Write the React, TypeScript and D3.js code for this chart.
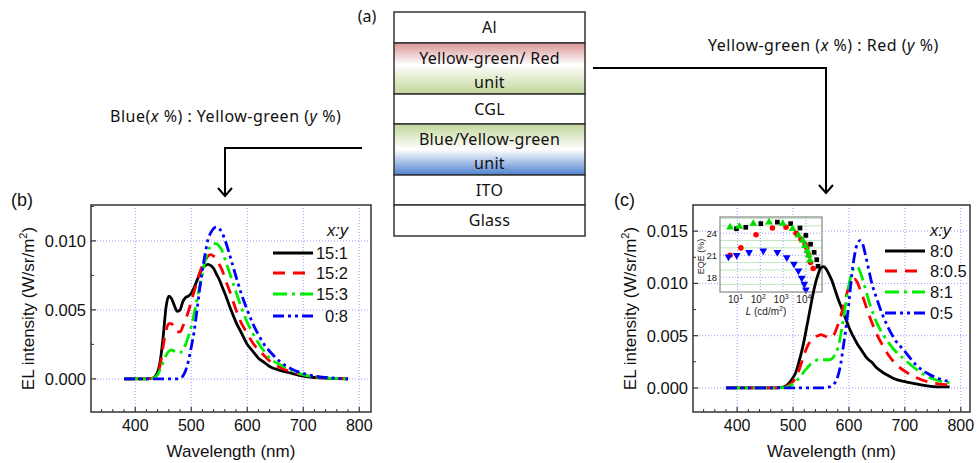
import React from 'react';
import * as d3 from 'd3';

const W = 977;
const H = 463;
const plotFont = "'Liberation Sans', Arial, sans-serif";
const labelFont = "'Noto Sans', 'Open Sans', sans-serif";

// panel (b) spectra: Blue(x%) : Yellow-green(y%)
const waveB = [380, 400, 420, 430, 440, 445, 450, 455, 460, 465, 470, 475, 480, 485, 490, 495, 500, 505, 510, 515, 520, 525, 530, 535, 540, 545, 550, 555, 560, 570, 580, 590, 600, 610, 620, 630, 640, 660, 680, 700, 720, 740, 760, 780];
const b15_1 = [0, 0, 0, 0.00003, 0.0005, 0.0014, 0.0031, 0.0052, 0.0060, 0.0058, 0.0053, 0.0049, 0.0050, 0.0056, 0.0059, 0.0060, 0.0062, 0.0066, 0.0071, 0.0076, 0.0080, 0.0082, 0.0083, 0.0082, 0.0080, 0.0076, 0.0072, 0.0067, 0.0062, 0.0051, 0.0041, 0.0033, 0.0025, 0.0020, 0.0015, 0.0012, 0.0009, 0.0006, 0.0004, 0.0002, 0.0001, 0.00005, 0.00002, 0];
const b15_2 = [0, 0, 0, 0.00003, 0.0004, 0.0011, 0.0024, 0.0035, 0.0040, 0.0040, 0.0036, 0.0034, 0.0034, 0.0038, 0.0043, 0.0049, 0.0056, 0.0063, 0.0070, 0.0077, 0.0082, 0.0086, 0.0089, 0.0090, 0.0089, 0.0087, 0.0083, 0.0079, 0.0073, 0.0062, 0.0050, 0.0040, 0.0033, 0.0026, 0.0021, 0.0017, 0.0013, 0.0008, 0.0005, 0.0003, 0.00015, 0.00008, 0.00003, 0];
const b15_3 = [0, 0, 0, 0.00002, 0.0003, 0.0007, 0.0012, 0.0017, 0.0020, 0.0021, 0.0020, 0.0019, 0.0019, 0.0021, 0.0025, 0.0031, 0.0038, 0.0047, 0.0057, 0.0067, 0.0076, 0.0086, 0.0093, 0.0096, 0.0098, 0.0098, 0.0096, 0.0093, 0.0087, 0.0075, 0.0063, 0.0051, 0.0041, 0.0033, 0.0026, 0.0020, 0.0015, 0.0010, 0.0006, 0.0003, 0.00015, 0.00008, 0.00003, 0];
const b0_8 = [0, 0, 0, 0, 0, 0, 0, 0, 0, 0, 0, 0, 0.00005, 0.0002, 0.0006, 0.0013, 0.0023, 0.0034, 0.0049, 0.0065, 0.0079, 0.0091, 0.0101, 0.0106, 0.0109, 0.0110, 0.0109, 0.0106, 0.0101, 0.0088, 0.0074, 0.0061, 0.0050, 0.0040, 0.0032, 0.0025, 0.0020, 0.0012, 0.0007, 0.0004, 0.0002, 0.0001, 0.00004, 0];
const legendB = ['15:1', '15:2', '15:3', '0:8'];

// panel (c) spectra: Yellow-green(x%) : Red(y%)
const waveC = [380, 400, 420, 440, 460, 480, 490, 500, 505, 510, 515, 520, 525, 530, 535, 540, 545, 550, 555, 560, 565, 570, 575, 580, 585, 590, 595, 600, 605, 610, 615, 620, 625, 630, 635, 640, 650, 660, 670, 680, 700, 720, 740, 760, 780];
const c8_0 = [0, 0, 0, 0, 0, 0.00005, 0.0003, 0.0010, 0.0015, 0.0024, 0.0034, 0.0046, 0.0060, 0.0074, 0.0088, 0.0100, 0.0109, 0.0115, 0.0116, 0.0113, 0.0108, 0.0102, 0.0094, 0.0086, 0.0079, 0.0072, 0.0065, 0.0058, 0.0052, 0.0047, 0.0042, 0.0038, 0.0034, 0.0030, 0.0027, 0.0025, 0.0019, 0.0015, 0.0012, 0.0009, 0.0006, 0.0004, 0.0002, 0.0001, 0.0001];
const c8_05 = [0, 0, 0, 0, 0, 0.00005, 0.0002, 0.0006, 0.0010, 0.0016, 0.0024, 0.0032, 0.0039, 0.0044, 0.0047, 0.0049, 0.0050, 0.0051, 0.0050, 0.0049, 0.0048, 0.0049, 0.0053, 0.0060, 0.0068, 0.0078, 0.0088, 0.0097, 0.0102, 0.0104, 0.0101, 0.0094, 0.0087, 0.0079, 0.0071, 0.0064, 0.0051, 0.0041, 0.0032, 0.0025, 0.0016, 0.0010, 0.0006, 0.0004, 0.0003];
const c8_1 = [0, 0, 0, 0, 0, 0.00003, 0.0001, 0.0004, 0.0006, 0.0009, 0.0012, 0.0016, 0.0019, 0.0022, 0.0024, 0.0026, 0.0027, 0.0027, 0.0027, 0.0027, 0.0027, 0.0028, 0.0032, 0.0038, 0.0050, 0.0066, 0.0084, 0.0099, 0.0110, 0.0115, 0.0116, 0.0111, 0.0103, 0.0094, 0.0084, 0.0076, 0.0062, 0.0052, 0.0044, 0.0037, 0.0027, 0.0018, 0.0011, 0.0007, 0.0005];
const c0_5 = [0, 0, 0, 0, 0, 0, 0, 0, 0, 0, 0, 0, 0, 0, 0, 0, 0, 0, 0, 0.00005, 0.0001, 0.0002, 0.0005, 0.0011, 0.0022, 0.0040, 0.0059, 0.0082, 0.0108, 0.0127, 0.0138, 0.0141, 0.0137, 0.0126, 0.0114, 0.0102, 0.0085, 0.0070, 0.0058, 0.0048, 0.0035, 0.0022, 0.0014, 0.0009, 0.0006];
const legendC = ['8:0', '8:0.5', '8:1', '0:5'];

// inset EQE vs luminance
const lum8_0 = [9, 23, 105, 560, 2150, 5500, 10000, 16000, 23000, 30000, 34000];
const eqe8_0 = [24.6, 24.8, 25.3, 25.5, 25.3, 24.7, 23.7, 22.5, 21.4, 20.4, 19.5];
const lum8_05 = [4.7, 14, 65, 340, 1350, 3700, 6100, 9200, 11000, 13200, 16000, 21000];
const eqe8_05 = [21.0, 22.0, 23.8, 24.7, 24.8, 24.0, 23.2, 22.5, 22.0, 21.0, 20.0, 19.2];
const lum8_1 = [4.7, 12, 49, 240, 960, 2600, 4700, 7300, 9200, 11500, 13200, 15000];
const eqe8_1 = [24.8, 24.9, 25.3, 25.5, 25.3, 24.6, 23.7, 23.0, 22.3, 21.6, 21.0, 20.3];
const lum0_5 = [4.0, 9.2, 32, 135, 560, 1450, 3000, 4700, 6600, 8500, 10000];
const eqe0_5 = [20.8, 21.0, 21.4, 21.6, 21.4, 20.7, 19.8, 18.9, 17.9, 17.1, 16.3];

const layers = [
  { lines: ['Al'], fill: 'white' },
  { lines: ['Yellow-green/ Red', 'unit'], fill: 'url(#gradRG)' },
  { lines: ['CGL'], fill: 'white' },
  { lines: ['Blue/Yellow-green', 'unit'], fill: 'url(#gradGB)' },
  { lines: ['ITO'], fill: 'white' },
  { lines: ['Glass'], fill: 'white' },
];
const layerEdges = [12, 43, 94, 124, 175, 205, 236];

const styles = [
  { color: '#000000', dash: 'none' },
  { color: '#ff0000', dash: '12,8' },
  { color: '#00ee00', dash: '14,5,3,5' },
  { color: '#0000ff', dash: '11,4,3,4,3,4' },
];

const gridColor = '#9a9aff';

function Spectrum({ box, xDomain, yDomain, yTicks, wave, series, labels, legendX, legendAnchor, legendYs, headerX, children }) {
  const x = d3.scaleLinear().domain(xDomain).range([box.left, box.right]);
  const y = d3.scaleLinear().domain(yDomain).range([box.bottom, box.top]);
  const xMajor = [400, 500, 600, 700, 800];
  const xMinor = d3.range(340, 820, 20).filter(v => v % 100 !== 0 && v <= xDomain[1]);
  const yMinor = d3.range(-0.0025, yDomain[1], 0.0025).filter(v => v >= yDomain[0] && Math.abs((v / 0.005) - Math.round(v / 0.005)) > 0.01);
  const line = d3.line().x((d) => x(d[0])).y((d) => y(d[1])).curve(d3.curveMonotoneX);
  const fmt = d3.format('.3f');
  const midY = (box.top + box.bottom) / 2;
  return (
    <g>
      {xMajor.map(v => (
        <line key={'gx' + v} x1={x(v)} x2={x(v)} y1={box.top} y2={box.bottom} stroke={gridColor} strokeWidth={1} strokeDasharray="1,2" />
      ))}
      {yTicks.map(v => (
        <line key={'gy' + v} x1={box.left} x2={box.right} y1={y(v)} y2={y(v)} stroke={gridColor} strokeWidth={1} strokeDasharray="1,2" />
      ))}
      {children}
      {series.map((s, i) => (
        <path key={'s' + i} d={line(wave.map((w, k) => [w, s[k]]))} fill="none" stroke={styles[i].color} strokeWidth={2.8} strokeDasharray={styles[i].dash} strokeLinejoin="round" />
      ))}
      <rect x={box.left} y={box.top} width={box.right - box.left} height={box.bottom - box.top} fill="none" stroke="#333" strokeWidth={1.5} />
      {xMajor.map(v => (
        <line key={'tx' + v} x1={x(v)} x2={x(v)} y1={box.bottom} y2={box.bottom - 5} stroke="#333" strokeWidth={1.2} />
      ))}
      {xMinor.map(v => (
        <line key={'mx' + v} x1={x(v)} x2={x(v)} y1={box.bottom} y2={box.bottom - 3} stroke="#333" strokeWidth={1} />
      ))}
      {yTicks.map(v => (
        <line key={'ty' + v} x1={box.left} x2={box.left + 5} y1={y(v)} y2={y(v)} stroke="#333" strokeWidth={1.2} />
      ))}
      {yMinor.map(v => (
        <line key={'my' + v} x1={box.left} x2={box.left + 3} y1={y(v)} y2={y(v)} stroke="#333" strokeWidth={1} />
      ))}
      {xMajor.map(v => (
        <text key={'lx' + v} x={x(v)} y={box.bottom + 19} textAnchor="middle" fontSize={16} fontFamily={plotFont} fill="#111">{v}</text>
      ))}
      {yTicks.map(v => (
        <text key={'ly' + v} x={box.left - 5} y={y(v) + 6} textAnchor="end" fontSize={16.5} fontFamily={plotFont} fill="#111">{fmt(v)}</text>
      ))}
      <text x={(box.left + box.right) / 2} y={457} textAnchor="middle" fontSize={17} fontFamily={plotFont} fill="#111">Wavelength (nm)</text>
      <text transform={`translate(${box.left - 57},${midY}) rotate(-90)`} textAnchor="middle" fontSize={17} fontFamily={plotFont} fill="#111">
        EL intensity (W/sr/m<tspan fontSize={11} dy={-7}>2</tspan><tspan dy={7}>)</tspan>
      </text>
      <text x={headerX} y={236} textAnchor={legendAnchor === 'end' ? 'end' : 'start'} fontSize={16.5} fontStyle="italic" fontFamily={plotFont} fill="#111">x:y</text>
      {labels.map((lab, i) => (
        <g key={'lg' + i}>
          <line x1={legendX[0]} x2={legendX[1]} y1={legendYs[i]} y2={legendYs[i]} stroke={styles[i].color} strokeWidth={2.8} strokeDasharray={styles[i].dash} />
          <text x={legendX[2]} y={legendYs[i] + 6} textAnchor={legendAnchor} fontSize={16.5} fontFamily={plotFont} fill="#111">{lab}</text>
        </g>
      ))}
    </g>
  );
}

function Inset() {
  const box = { left: 720, right: 822, top: 217, bottom: 292 };
  const x = d3.scaleLog().domain([1.7, 51000]).range([box.left, box.right]);
  const y = d3.scaleLinear().domain([16, 26.2]).range([box.bottom, box.top]);
  const major = [18, 21, 24];
  const minor = [17, 19, 20, 22, 23, 25, 26];
  const decades = [10, 100, 1000, 10000];
  const sq = d3.symbol().type(d3.symbolSquare).size(22)();
  const ci = d3.symbol().type(d3.symbolCircle).size(24)();
  const tri = d3.symbol().type(d3.symbolTriangle).size(26)();
  const sets = [
    { lum: lum8_0, eqe: eqe8_0, path: sq, color: '#000000', rot: 0 },
    { lum: lum8_05, eqe: eqe8_05, path: ci, color: '#ff0000', rot: 0 },
    { lum: lum8_1, eqe: eqe8_1, path: tri, color: '#00dd00', rot: 0 },
    { lum: lum0_5, eqe: eqe0_5, path: tri, color: '#0000ff', rot: 180 },
  ];
  return (
    <g>
      <rect x={box.left} y={box.top} width={box.right - box.left} height={box.bottom - box.top} fill="white" />
      {minor.map(v => (
        <line key={'mi' + v} x1={box.left} x2={box.right} y1={y(v)} y2={y(v)} stroke="#bfe8bf" strokeWidth={1} />
      ))}
      {major.map(v => (
        <line key={'ma' + v} x1={box.left} x2={box.right} y1={y(v)} y2={y(v)} stroke={gridColor} strokeWidth={1} strokeDasharray="1,2" />
      ))}
      {decades.map(v => (
        <line key={'dx' + v} x1={x(v)} x2={x(v)} y1={box.top} y2={box.bottom} stroke={gridColor} strokeWidth={1} strokeDasharray="1,2" />
      ))}
      {sets.map((s, i) => (
        <g key={'set' + i}>
          {s.lum.map((l, k) => (
            <path key={k} d={s.path} transform={`translate(${x(l)},${y(s.eqe[k])}) rotate(${s.rot})`} fill={s.color} />
          ))}
        </g>
      ))}
      <rect x={box.left} y={box.top} width={box.right - box.left} height={box.bottom - box.top} fill="none" stroke="#888" strokeWidth={1.2} />
      {major.map(v => (
        <text key={'yl' + v} x={box.left - 3} y={y(v) + 3.5} textAnchor="end" fontSize={9.5} fontFamily={plotFont} fill="#222">{v}</text>
      ))}
      {decades.map((v, i) => (
        <text key={'xl' + v} x={x(v) - 2} y={303} textAnchor="middle" fontSize={10} fontFamily={plotFont} fill="#222">
          10<tspan fontSize={7} dy={-4}>{i + 1}</tspan>
        </text>
      ))}
      <text transform={`translate(704,${(box.top + box.bottom) / 2 + 2}) rotate(-90)`} textAnchor="middle" fontSize={9} fontFamily={plotFont} fill="#222">EQE (%)</text>
      <text x={766} y={315} textAnchor="middle" fontSize={10} fontFamily={plotFont} fill="#222">
        <tspan fontStyle="italic">L</tspan> (cd/m<tspan fontSize={7} dy={-4}>2</tspan><tspan dy={4}>)</tspan>
      </text>
    </g>
  );
}

export default function App() {
  const arrowHead = (x, y) => `M${x - 7},${y - 8} L${x},${y} L${x + 7},${y - 8}`;
  const lineOffsets = [[5.5], [-4.5, 19.5]];
  return (
    <svg width={W} height={H} style={{ position: 'absolute', left: 0, top: 0, background: 'white' }}>
      <defs>
        <linearGradient id="gradRG" x1="0" y1="0" x2="0" y2="1">
          <stop offset="0" stopColor="#d99494" />
          <stop offset="0.42" stopColor="#ffffff" />
          <stop offset="1" stopColor="#c2d69a" />
        </linearGradient>
        <linearGradient id="gradGB" x1="0" y1="0" x2="0" y2="1">
          <stop offset="0" stopColor="#c2d69a" />
          <stop offset="0.5" stopColor="#ffffff" />
          <stop offset="1" stopColor="#4f81cf" />
        </linearGradient>
      </defs>

      {/* device stack (a) */}
      <text x={367} y={22} textAnchor="middle" fontSize={16} fontFamily={labelFont} fill="#111">(a)</text>
      {layers.map((l, i) => {
        const y0 = layerEdges[i];
        const y1 = layerEdges[i + 1];
        const mid = (y0 + y1) / 2;
        const offs = lineOffsets[l.lines.length - 1];
        return (
          <g key={'ly' + i}>
            <rect x={394} y={y0} width={191} height={y1 - y0} fill={l.fill} stroke="#333" strokeWidth={1.5} />
            {l.lines.map((t, k) => (
              <text key={k} x={489.5} y={mid + offs[k]} textAnchor="middle" fontSize={16} letterSpacing={0.3} fontFamily={labelFont} fill="#111">{t}</text>
            ))}
          </g>
        );
      })}

      {/* arrows */}
      <path d="M362,148 L225,148 L225,196" fill="none" stroke="#000" strokeWidth={2} />
      <path d={arrowHead(225, 196)} fill="none" stroke="#000" strokeWidth={2} />
      <path d="M593,68 L826,68 L826,193" fill="none" stroke="#000" strokeWidth={2} />
      <path d={arrowHead(826, 193)} fill="none" stroke="#000" strokeWidth={2} />
      <text x={110} y={122} fontSize={16} letterSpacing={0.5} fontFamily={labelFont} fill="#111">
        Blue(<tspan fontStyle="italic">x</tspan> %) : Yellow-green (<tspan fontStyle="italic">y</tspan> %)
      </text>
      <text x={708} y={51} fontSize={16} letterSpacing={0.5} fontFamily={labelFont} fill="#111">
        Yellow-green (<tspan fontStyle="italic">x</tspan> %) : Red (<tspan fontStyle="italic">y</tspan> %)
      </text>

      <text x={11} y={206} fontSize={18} fontFamily={plotFont} fill="#111">(b)</text>
      <text x={614} y={206} fontSize={18} fontFamily={plotFont} fill="#111">(c)</text>

      <Spectrum
        box={{ left: 91, right: 371, top: 205, bottom: 412 }}
        xDomain={[321, 821]}
        yDomain={[-0.0024, 0.0126]}
        yTicks={[0, 0.005, 0.01]}
        wave={waveB}
        series={[b15_1, b15_2, b15_3, b0_8]}
        labels={legendB}
        legendX={[273, 313, 348]}
        legendAnchor="end"
        legendYs={[253, 273, 294, 316]}
        headerX={348}
      />
      <Spectrum
        box={{ left: 693, right: 970, top: 205, bottom: 412 }}
        xDomain={[321, 816.5]}
        yDomain={[-0.0023, 0.0175]}
        yTicks={[0, 0.005, 0.01, 0.015]}
        wave={waveC}
        series={[c8_0, c8_05, c8_1, c0_5]}
        labels={legendC}
        legendX={[885, 925, 930]}
        legendAnchor="start"
        legendYs={[251, 271, 292, 313]}
        headerX={930}
      >
        <Inset />
      </Spectrum>
    </svg>
  );
}
